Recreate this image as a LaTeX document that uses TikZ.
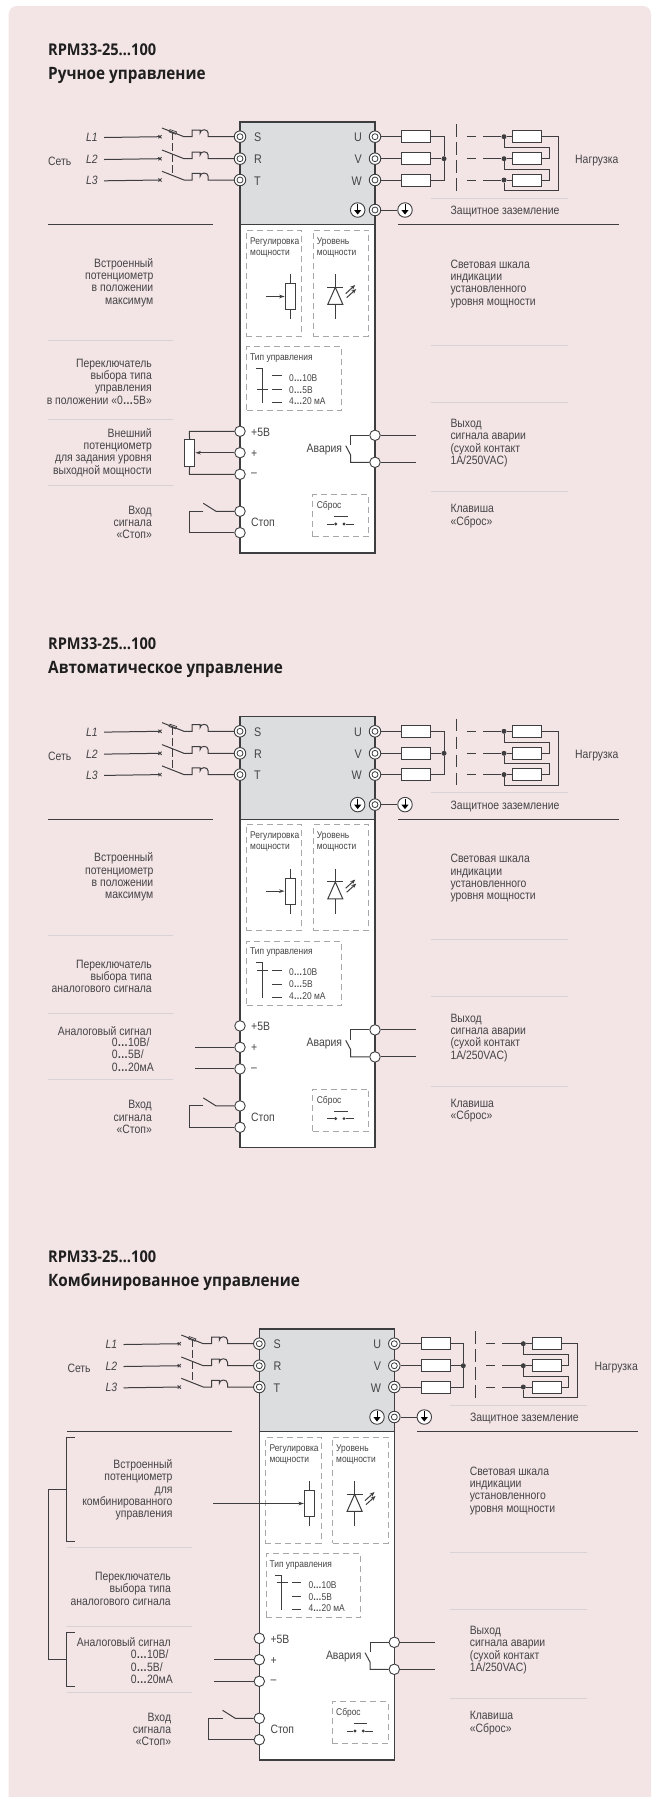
\documentclass[tikz,border=0pt]{standalone}
\usepackage{fontspec}
\usetikzlibrary{arrows.meta,calc}
\setmainfont[FakeStretch=0.86]{Liberation Sans}
\newfontfamily\titlefont[FakeStretch=0.9]{Open Sans}
\definecolor{bgpink}{HTML}{F3E4E5}
\definecolor{grayfill}{HTML}{DCDDDF}
\definecolor{inkc}{HTML}{3E3E40}
\definecolor{txtc}{HTML}{444446}
\definecolor{softc}{HTML}{D6D2D6}
\definecolor{dashc}{HTML}{A8A8AA}
\newcommand{\dts}{\textbf{…}}
\tikzset{
  wire/.style={draw=inkc,line width=1pt},
  softline/.style={draw=softc,line width=1pt},
  blackline/.style={draw=inkc,line width=0.9pt},
  dashbox/.style={draw=dashc,line width=0.9pt,dash pattern=on 6pt off 4pt},
  lbl/.style={inner sep=0pt,yshift=-0.8pt,text=txtc,font=\fontsize{12.1}{12.35}\selectfont},
  rlbl/.style={lbl,align=right,anchor=east},
  llbl/.style={lbl,align=left,anchor=west},
  sm/.style={inner sep=0pt,text=txtc,anchor=west,font=\fontsize{9.8}{9.8}\selectfont},
  termd/.style={circle,draw=inkc,line width=0.9pt,fill=white,inner sep=0pt,minimum size=11.5pt,
    path picture={\draw[inkc,line width=0.8pt] (path picture bounding box.center) circle (3pt);}},
  termp/.style={circle,draw=inkc,line width=0.9pt,fill=white,inner sep=0pt,minimum size=10.5pt},
  gnd/.style={circle,draw=inkc,line width=0.9pt,fill=white,inner sep=0pt,minimum size=14.5pt,
    path picture={\coordinate (gc) at (path picture bounding box.center);
      \draw[black,line width=1pt] ($(gc)+(0,-6)$) -- (gc);
      \fill[black] ($(gc)+(-3.6,0)$) -- ($(gc)+(3.6,0)$) -- ($(gc)+(0,4.5)$) -- cycle;}},
  res/.style={rectangle,draw=inkc,line width=1pt,fill=white,inner sep=0pt,minimum width=29pt,minimum height=12pt},
  vres/.style={rectangle,draw=inkc,line width=1pt,fill=white,inner sep=0pt,minimum width=10.5pt,minimum height=26.5pt},
  dot/.style={circle,fill=inkc,inner sep=0pt,minimum size=5pt},
  minidot/.style={circle,fill=inkc,inner sep=0pt,minimum size=3.2pt},
  ttl/.style={inner sep=0pt,anchor=base west,text=black!88,font=\titlefont\fontsize{17}{17}\selectfont\bfseries},
  ttm/.style={ttl,font=\titlefont\fontsize{16.2}{16.2}\selectfont\bfseries},
  tip/.style={-{Stealth[length=5.5pt,width=3.6pt]}},
}
% #1 name prefix, #2 y of the selector bar, #3 x where the potentiometer arrow starts
\newcommand{\CommonPart}[3]{
  % body
  \node[rectangle,draw=inkc,line width=1.2pt,fill=white,minimum width=135pt,minimum height=328.5pt,inner sep=0pt] (#1Low) at (307.5,388.75) {};
  \node[rectangle,draw=inkc,line width=1.2pt,fill=grayfill,minimum width=135pt,minimum height=102.5pt,inner sep=0pt] (#1Up) at (307.5,173.25) {};
  % mains
  \node[termd] (#1S) at (240,136.7) {};
  \node[termd] (#1R) at (240,158.7) {};
  \node[termd] (#1T) at (240,180) {};
  \node[lbl,anchor=west] (#1tS) at (254,136.7) {\fontsize{12.5}{12.5}\selectfont S};
  \node[lbl,anchor=west] (#1tR) at (254,158.7) {\fontsize{12.5}{12.5}\selectfont R};
  \node[lbl,anchor=west] (#1tT) at (254,180) {\fontsize{12.5}{12.5}\selectfont T};
  \node[lbl,minimum width=24pt] (#1La) at (92,136.7) {\itshape L1};
  \node[lbl,minimum width=24pt] (#1Lb) at (92,158.7) {\itshape L2};
  \node[lbl,minimum width=24pt] (#1Lc) at (92,180) {\itshape L3};
  \node[llbl] (#1Net) at (48,161) {Сеть};
  \foreach \pp/\yy/\ll/\tt in {a/136.7/La/S,b/158.7/Lb/R,c/180/Lc/T}{
    \coordinate (#1X\pp) at (160,\yy);
    \coordinate (#1Ba\pp) at (162,\yy-8.7);
    \coordinate (#1Bb\pp) at (184,\yy);
    \draw[wire] (#1\ll.east) -- (#1X\pp);
    \draw[wire,line width=0.8pt] ($(#1X\pp)+(-1.6,-1.6)$) -- ($(#1X\pp)+(1.6,1.6)$) ($(#1X\pp)+(-1.6,1.6)$) -- ($(#1X\pp)+(1.6,-1.6)$);
    \draw[wire] (#1Ba\pp) -- (#1Bb\pp) -- ++(8.2,0) -- ++(0,-6.7) -- ++(7.8,0) -- ++(0,3.2)
      .. controls +(0,-4.6) and +(0,-4.6) .. ++(8.2,0) -- ++(0,3.5) -- (#1\tt.west);
  }
  \coordinate (#1Da) at (172.7,132);
  \coordinate (#1Db) at (172.7,175);
  \draw[wire,dash pattern=on 8pt off 3pt] (#1Da) -- (#1Db);
  \draw[wire,line width=0.7pt] (170,129.6) -- (176.6,131.9) -- (175.7,134.2) -- (169.1,131.9) -- cycle;
  % outputs
  \node[termd] (#1U) at (375,136.7) {};
  \node[termd] (#1V) at (375,158.7) {};
  \node[termd] (#1W) at (375,180) {};
  \node[lbl,anchor=east] (#1tU) at (362,136.7) {\fontsize{12.5}{12.5}\selectfont U};
  \node[lbl,anchor=east] (#1tV) at (362,158.7) {\fontsize{12.5}{12.5}\selectfont V};
  \node[lbl,anchor=east] (#1tW) at (362,180) {\fontsize{12.5}{12.5}\selectfont W};
  \node[res] (#1RU) at (416.2,136.7) {};
  \node[res] (#1RV) at (416.2,158.7) {};
  \node[res] (#1RW) at (416.2,180) {};
  \node[dot] (#1Star) at (444,158.7) {};
  \draw[wire] (#1U) -- (#1RU) (#1V) -- (#1RV) (#1W) -- (#1RW);
  \draw[wire] (#1RU.east) -| (#1Star);
  \draw[wire] (#1RW.east) -| (#1Star);
  \draw[wire] (#1RV.east) -- (#1Star);
  \coordinate (#1Sa) at (456,124);
  \coordinate (#1Sb) at (456,192.7);
  \draw[wire,dash pattern=on 12.5pt off 5.5pt] (#1Sa) -- (#1Sb);
  \node[res] (#1LU) at (527.4,136.7) {};
  \node[res] (#1LV) at (527.4,158.7) {};
  \node[res] (#1LW) at (527.4,180) {};
  \node[dot] (#1NU) at (504,136.7) {};
  \node[dot] (#1NV) at (504,158.7) {};
  \node[dot] (#1NW) at (504,180) {};
  \foreach \nn/\yy in {U/136.7,V/158.7,W/180}{
    \coordinate (#1Pa\nn) at (466.7,\yy);
    \coordinate (#1Pb\nn) at (476,\yy);
    \coordinate (#1Pc\nn) at (483,\yy);
    \draw[wire] (#1Pa\nn) -- (#1Pb\nn) (#1Pc\nn) -- (#1N\nn) -- (#1L\nn);
  }
  \coordinate (#1Ca) at (558,190.7);
  \coordinate (#1Cb) at (549,147.7);
  \coordinate (#1Cc) at (549,169);
  \draw[wire] (#1LU.east) -| (#1Ca) -| (#1NW);
  \draw[wire] (#1LV.east) -| (#1Cb) -| (#1NU);
  \draw[wire] (#1LW.east) -| (#1Cc) -| (#1NV);
  \node[llbl] (#1Load) at (575,160) {Нагрузка};
  % earth
  \node[gnd] (#1Gi) at (357.7,210) {};
  \node[termd] (#1TG) at (375,210) {};
  \node[gnd] (#1Go) at (405,210) {};
  \draw[wire] (#1TG) -- (#1Go);
  \node[llbl] (#1Pe) at (450.5,210.7) {Защитное заземление};
  % rules
  \coordinate (#1ra) at (431,198); \coordinate (#1rb) at (568,198);
  \draw[softline] (#1ra) -- (#1rb);
  \foreach \yy/\nn in {345.3/c,402.3/d,491.7/e}{
    \coordinate (#1r\nn a) at (431,\yy); \coordinate (#1r\nn b) at (568,\yy);
    \draw[softline] (#1r\nn a) -- (#1r\nn b);
  }
  \foreach \yy/\nn in {340.7/f,419.3/g,485.3/h}{
    \coordinate (#1r\nn a) at (48,\yy); \coordinate (#1r\nn b) at (172.6,\yy);
    \draw[softline] (#1r\nn a) -- (#1r\nn b);
  }
  \coordinate (#1ki) at (48,224.5); \coordinate (#1kj) at (213,224.5);
  \coordinate (#1kk) at (398,224.5); \coordinate (#1kl) at (619,224.5);
  \draw[blackline] (#1ki) -- (#1kj) (#1kk) -- (#1kl);
  % dashed panels
  \node[dashbox,minimum width=55.7pt,minimum height=106pt,inner sep=0pt] (#1BoxA) at (273.85,283) {};
  \node[dashbox,minimum width=55.4pt,minimum height=106pt,inner sep=0pt] (#1BoxB) at (341,283) {};
  \node[sm] (#1ta) at (250,241.7) {Регулировка};
  \node[sm] (#1tb) at (250,253.7) {мощности};
  \node[sm] (#1tc) at (316.7,241.7) {Уровень};
  \node[sm] (#1td) at (316.7,253.7) {мощности};
  % potentiometer
  \node[vres] (#1Trim) at (290.35,296.65) {};
  \coordinate (#1TrimT) at (290.35,274); \coordinate (#1TrimB) at (290.35,319);
  \draw[wire] (#1TrimT) -- (#1Trim.north) (#1Trim.south) -- (#1TrimB);
  \coordinate (#1TrimIn) at (#3,296.5);
  \draw[wire,tip] (#1TrimIn) -- (#1Trim.west |- #1TrimIn);
  % LED
  \coordinate (#1Dt) at (335.3,274); \coordinate (#1Db2) at (335.3,319);
  \coordinate (#1Apex) at (335.3,287.3); \coordinate (#1Base) at (335.3,304.3);
  \draw[wire] (#1Dt) -- (#1Apex) (#1Base) -- (#1Db2);
  \draw[wire] (327.3,287.3) -- (343.3,287.3);
  \draw[wire] (#1Apex) -- (327.8,304.3) -- (342.8,304.3) -- cycle;
  \draw[inkc,line width=1pt,-{Stealth[length=5pt,width=4pt]}] (345.7,293.6) -- (355.2,285);
  \draw[inkc,line width=1pt,-{Stealth[length=5pt,width=4pt]}] (346.7,297.6) -- (356.2,289);
  % mode selector
  \node[dashbox,minimum width=94.6pt,minimum height=64pt,inner sep=0pt] (#1BoxT) at (294,378.7) {};
  \node[sm] (#1te) at (250,357.7) {Тип управления};
  \coordinate (#1Sa1) at (256,368.3); \coordinate (#1Sa2) at (262.3,368.3); \coordinate (#1Sa3) at (262.3,403.3);
  \draw[wire] (#1Sa1) -- (#1Sa2) -- (#1Sa3);
  \coordinate (#1Bar1) at (257.3,#2); \coordinate (#1Bar2) at (268.3,#2);
  \draw[wire] (#1Bar1) -- (#1Bar2);
  \foreach \yy/\nn in {375.7/a,389.7/b,402.7/c}{
    \coordinate (#1Ma\nn) at (272.3,\yy); \coordinate (#1Mb\nn) at (281.7,\yy);
    \draw[wire] (#1Ma\nn) -- (#1Mb\nn);
  }
  \node[sm] (#1tf) at (289,377.7) {0\dts10В};
  \node[sm] (#1tg) at (289,389.7) {0\dts5В};
  \node[sm] (#1th) at (289,401.5) {4\dts20 мА};
  % low terminals
  \node[termp] (#1P) at (240,431.3) {};
  \node[termp] (#1Q) at (240,452.7) {};
  \node[termp] (#1M) at (240,474.3) {};
  \node[llbl] (#1tP) at (251,431.3) {+5В};
  \node[llbl] (#1tQ) at (251,452.7) {+};
  \node[llbl] (#1tM) at (251,474.3) {–};
  \node[termp] (#1St) at (240,511.3) {};
  \node[termp] (#1Sp) at (240,532.7) {};
  \node[llbl] (#1tSt) at (251,521.7) {Стоп};
  \coordinate (#1Sw1) at (216,511.3); \coordinate (#1Sw2) at (203.3,503.3);
  \coordinate (#1Sw3) at (203.3,511.3); \coordinate (#1Sw4) at (189.3,532.7);
  \draw[wire] (#1St) -- (#1Sw1) -- (#1Sw2);
  \draw[wire] (#1Sw3) -| (#1Sw4) -- (#1Sp);
  % alarm
  \node[termp] (#1A1) at (375,435.3) {};
  \node[termp] (#1A2) at (375,462.3) {};
  \node[lbl,anchor=east] (#1tA) at (342.3,448.3) {Авария};
  \coordinate (#1Aa) at (350.7,435.3); \coordinate (#1Ab) at (350.7,445);
  \coordinate (#1Ac) at (345.7,445.7); \coordinate (#1Ad) at (350.7,455);
  \coordinate (#1Ae) at (350.7,462.3);
  \coordinate (#1Of) at (415.8,435.3); \coordinate (#1Og) at (415.8,462.3);
  \draw[wire] (#1A1) -- (#1Aa) -- (#1Ab);
  \draw[wire] (#1Ac) -- (#1Ad) -- (#1Ae) -- (#1A2);
  \draw[wire] (#1A1) -- (#1Of) (#1A2) -- (#1Og);
  % reset
  \node[dashbox,minimum width=56pt,minimum height=42pt,inner sep=0pt] (#1BoxR) at (340.7,515.7) {};
  \node[sm] (#1ti) at (316.7,506) {Сброс};
  \coordinate (#1Ra) at (334.3,516.7); \coordinate (#1Rb) at (347.7,516.7);
  \draw[wire] (#1Ra) -- (#1Rb);
  \node[minidot] (#1R1) at (335.7,524) {};
  \node[minidot] (#1R2) at (344,524) {};
  \coordinate (#1Rc) at (327.3,524); \coordinate (#1Rd) at (354,524);
  \draw[wire] (#1Rc) -- (#1R1) (#1R2) -- (#1Rd);
  % right captions
  \node[llbl] (#1tj) at (450.3,282.8) {Световая шкала\\индикации\\установленного\\уровня мощности};
  \node[llbl] (#1tk) at (450.3,442.3) {Выход\\сигнала аварии\\(сухой контакт\\1А/250VAC)};
  \node[llbl] (#1tl) at (450.3,515.2) {Клавиша\\«Сброс»};
  \node[rlbl] (#1tm) at (152,521.7) {Вход\\сигнала\\«Стоп»};
}
\begin{document}
\begin{tikzpicture}[x=1pt,y=-1pt]
\path[use as bounding box] (0,0) rectangle (651,1797);
\fill[bgpink] (8.7,1797) [rounded corners=8pt] -- (8.7,6) -- (651,6) [sharp corners] -- (651,1797) -- cycle;
% section 1
\node[ttm] (t1a) at (48,55) {RPM33-25…100};
\node[ttl] (t1b) at (48,79) {Ручное управление};
\begin{scope}
\CommonPart{a}{389.7}{266}
\node[rlbl] (aT1) at (153.5,281.7) {Встроенный\\потенциометр\\в положении\\максимум};
\node[rlbl] (aT2) at (152,380.7) {Переключатель\\выбора типа\\управления\\в положении «0\dts5В»};
\node[rlbl] (aT3) at (152,451.7) {Внешний\\потенциометр\\для задания уровня\\выходной мощности};
\node[vres] (aExt) at (189.6,453) {};
\coordinate (aE1) at (189.3,431.3); \coordinate (aE2) at (189.3,474.3);
\draw[wire] (aP) -- (aE1) -- (aExt.north);
\draw[wire] (aM) -- (aE2) -- (aExt.south);
\draw[wire,line width=1.3pt,tip] (aQ) -- (aExt.east |- aQ);
\end{scope}
% section 2
\node[ttm] (t2a) at (48,649.6) {RPM33-25…100};
\node[ttl] (t2b) at (48,673.6) {Автоматическое управление};
\begin{scope}[shift={(0,594.6)}]
\CommonPart{b}{375.7}{266}
\node[rlbl] (bT1) at (153.5,281.7) {Встроенный\\потенциометр\\в положении\\максимум};
\node[rlbl] (bT2) at (152,381) {Переключатель\\выбора типа\\аналогового сигнала};
\node[rlbl] (bT3) at (152,435.4) {Аналоговый сигнал};
\node[llbl] (bT4) at (111.7,459) {0\dts10В/\\0\dts5В/\\0\dts20мА};
\coordinate (bW1) at (195,452.7); \coordinate (bW2) at (195,474.3);
\draw[wire] (bW1) -- (bQ) (bW2) -- (bM);
\end{scope}
% section 3
\node[ttm] (t3a) at (48,1262) {RPM33-25…100};
\node[ttl] (t3b) at (48,1286) {Комбинированное управление};
\begin{scope}[shift={(19.3,1207)}]
\CommonPart{c}{375.7}{194}
\node[rlbl] (cT1) at (153.4,282) {Встроенный\\потенциометр\\для\\комбинированного\\управления};
\node[rlbl] (cT2) at (151.7,381) {Переключатель\\выбора типа\\аналогового сигнала};
\node[rlbl] (cT3) at (151.7,434.7) {Аналоговый сигнал};
\node[llbl] (cT4) at (111.4,459) {0\dts10В/\\0\dts5В/\\0\dts20мА};
\coordinate (cW1) at (194.7,452.7); \coordinate (cW2) at (194.7,474.3);
\draw[wire] (cW1) -- (cQ) (cW2) -- (cM);
\coordinate (cB1a) at (55.4,230.3); \coordinate (cB1b) at (47.4,230.3); \coordinate (cB1c) at (47.4,334.7); \coordinate (cB1d) at (55.4,334.7);
\draw[wire] (cB1a) -- (cB1b) -- (cB1c) -- (cB1d);
\coordinate (cB2a) at (55.4,425); \coordinate (cB2b) at (47.4,425); \coordinate (cB2c) at (47.4,479.3); \coordinate (cB2d) at (55.4,479.3);
\draw[wire] (cB2a) -- (cB2b) -- (cB2c) -- (cB2d);
\coordinate (cJ1) at (47.4,282.7); \coordinate (cJ2) at (29,282.7); \coordinate (cJ3) at (29,452); \coordinate (cJ4) at (47.4,452);
\draw[wire] (cJ1) -- (cJ2) -- (cJ3) -- (cJ4);
\end{scope}
\end{tikzpicture}
\end{document}
